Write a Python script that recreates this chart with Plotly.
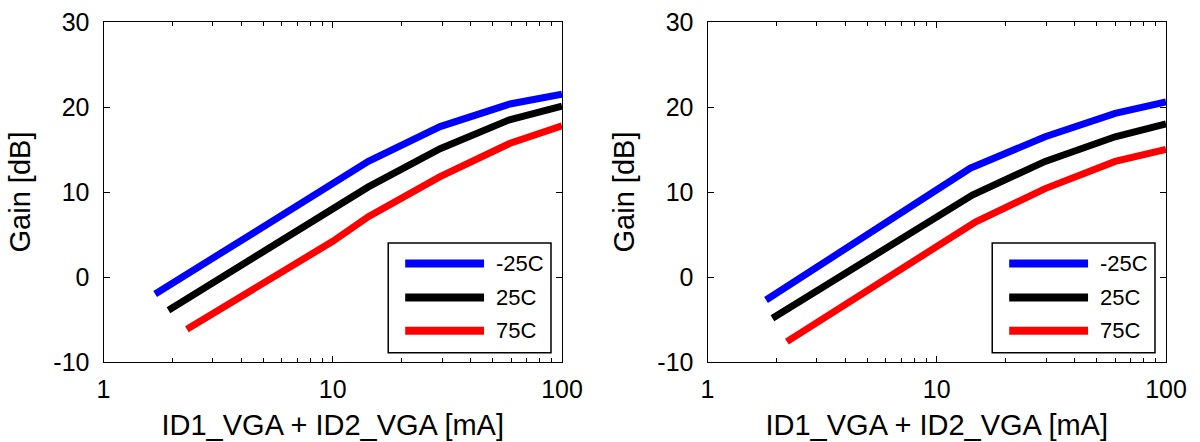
import plotly.graph_objects as go

# ---------------- data ----------------
series_names = ["-25C", "25C", "75C"]
series_colors = ["#0000FF", "#000000", "#FF0000"]

# left panel
left_x_m25 = [1.68, 5, 10, 14.3, 29.4, 59.3, 100]
left_y_m25 = [-2.0, 5.9, 11.0, 13.6, 17.7, 20.35, 21.5]
left_x_25 = [1.92, 5, 10, 14.3, 29.4, 59.0, 100]
left_y_25 = [-3.9, 3.0, 8.0, 10.6, 15.1, 18.5, 20.1]
left_x_75 = [2.31, 5, 10, 14.3, 29.4, 59.0, 100]
left_y_75 = [-6.15, -0.6, 4.2, 7.1, 11.8, 15.7, 17.8]

# right panel
right_x_m25 = [1.80, 5, 10, 14.0, 29.7, 60.0, 100]
right_y_m25 = [-2.7, 5.0, 10.25, 12.8, 16.5, 19.25, 20.6]
right_x_25 = [1.92, 5, 10, 14.3, 29.7, 60.0, 100]
right_y_25 = [-4.86, 2.15, 7.2, 9.65, 13.6, 16.5, 18.0]
right_x_75 = [2.22, 5, 10, 14.8, 29.7, 60.0, 100]
right_y_75 = [-7.6, -1.55, 3.6, 6.5, 10.4, 13.6, 15.0]

x_tick_vals = [1, 10, 100]
x_tick_text = ["1", "10", "100"]
x_minor_vals = [2, 3, 4, 5, 6, 7, 8, 9, 20, 30, 40, 50, 60, 70, 80, 90]
y_tick_vals = [-10, 0, 10, 20, 30]
y_tick_text = ["-10", "0", "10", "20", "30"]

x_title = "ID1_VGA + ID2_VGA [mA]"
y_title = "Gain [dB]"

# ---------------- figure ----------------
W, H = 1200, 442
FONT = "Liberation Sans, Arial, Helvetica, sans-serif"

fig = go.Figure()

panels = [
    ("x", "y", [(left_x_m25, left_y_m25), (left_x_25, left_y_25), (left_x_75, left_y_75)]),
    ("x2", "y2", [(right_x_m25, right_y_m25), (right_x_25, right_y_25), (right_x_75, right_y_75)]),
]

for xa, ya, data in panels:
    for (xs, ys), name, col in zip(data, series_names, series_colors):
        fig.add_trace(go.Scatter(
            x=xs, y=ys, mode="lines", name=name, xaxis=xa, yaxis=ya,
            line=dict(color=col, width=7), showlegend=False, hoverinfo="x+y+name",
        ))

# plot areas in pixels
left_px = (103.5, 562.0)
right_px = (707.5, 1166.0)
top_px, bottom_px = 22.0, 362.0

def xdom(p):
    return [p[0] / W, p[1] / W]

ydom = [1 - bottom_px / H, 1 - top_px / H]

axis_common_x = dict(
    type="log", range=[0, 2], tickmode="array", tickvals=x_tick_vals, ticktext=x_tick_text,
    ticks="inside", ticklen=6, tickwidth=1, tickcolor="black",
    showline=True, linecolor="black", linewidth=1, mirror="ticks",
    showgrid=False, zeroline=False,
    minor=dict(tickmode="array", tickvals=x_minor_vals, ticks="inside", ticklen=4,
               tickwidth=1, tickcolor="black", showgrid=False),
    tickfont=dict(family=FONT, size=25, color="black"),
    ticklabelstandoff=5,
    title=dict(text=x_title, font=dict(family=FONT, size=29, color="black"), standoff=12),
)
axis_common_y = dict(
    range=[-10, 30], tickmode="array", tickvals=y_tick_vals, ticktext=y_tick_text,
    ticks="inside", ticklen=6, tickwidth=1, tickcolor="black",
    showline=True, linecolor="black", linewidth=1, mirror="ticks",
    showgrid=False, zeroline=False,
    tickfont=dict(family=FONT, size=25, color="black"),
    ticklabelstandoff=8,
    title=dict(text=y_title, font=dict(family=FONT, size=29, color="black"), standoff=14),
)

fig.update_layout(
    width=W, height=H,
    margin=dict(l=0, r=0, t=0, b=0),
    paper_bgcolor="white", plot_bgcolor="white",
    font=dict(family=FONT, color="black"),
    showlegend=False,
    xaxis=dict(domain=xdom(left_px), anchor="y", automargin=False, **axis_common_x),
    yaxis=dict(domain=ydom, anchor="x", automargin=False, **axis_common_y),
    xaxis2=dict(domain=xdom(right_px), anchor="y2", automargin=False, **axis_common_x),
    yaxis2=dict(domain=ydom, anchor="x2", automargin=False, **axis_common_y),
)

# manual legend boxes (in axis-domain coordinates)
box_x0, box_x1 = 0.621, 0.976
box_y0, box_y1 = 0.027, 0.350
line_x0, line_x1 = 0.658, 0.830
text_x = 0.852
row_y = [0.290, 0.190, 0.092]

shapes = []
annotations = []
for xa, ya in [("x", "y"), ("x2", "y2")]:
    xr, yr = f"{xa} domain", f"{ya} domain"
    shapes.append(dict(type="rect", xref=xr, yref=yr, x0=box_x0, x1=box_x1, y0=box_y0, y1=box_y1,
                       line=dict(color="black", width=1.5), fillcolor="white", layer="above"))
    for name, col, ry in zip(series_names, series_colors, row_y):
        shapes.append(dict(type="line", xref=xr, yref=yr, x0=line_x0, x1=line_x1, y0=ry, y1=ry,
                           line=dict(color=col, width=8), layer="above"))
        annotations.append(dict(xref=xr, yref=yr, x=text_x, y=ry, text=name, showarrow=False,
                                xanchor="left", yanchor="middle",
                                font=dict(family=FONT, size=22, color="black")))

fig.update_layout(shapes=shapes, annotations=annotations)

fig.write_html("out.html")
